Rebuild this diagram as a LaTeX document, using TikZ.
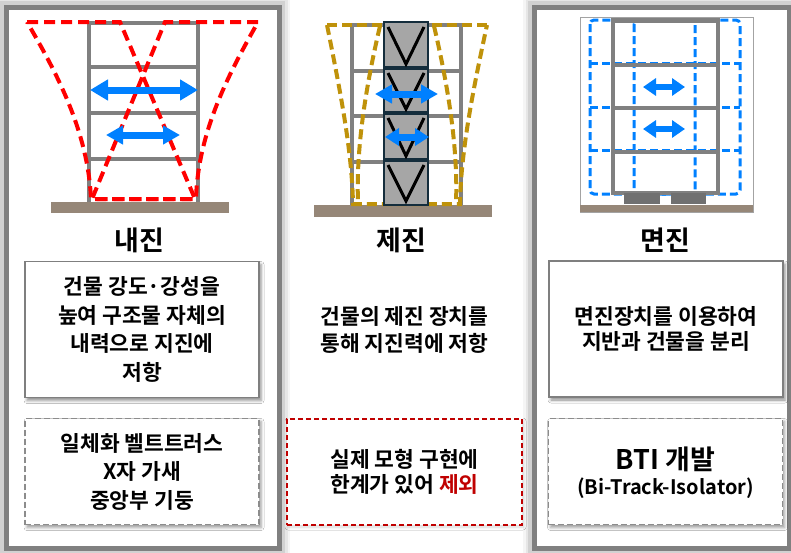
\documentclass[tikz,border=0pt]{standalone}
\usepackage{fontspec}
% heavy text: a true bold face when present, otherwise overprinted copies
\IfFontExistsTF{Noto Sans CJK KR Bold}{%
  \setmainfont{Noto Sans CJK KR Bold}%
  \newcommand\heavy[1]{#1}%
}{%
  \setmainfont{Noto Sans CJK KR}%
  \newcommand\heavy[1]{\rlap{#1}\rlap{\kern0.5pt\raisebox{0.35pt}{#1}}\kern1pt#1}%
}
\usetikzlibrary{arrows.meta,shadows.blur}

\definecolor{framegray}{RGB}{128,128,128}
\definecolor{groundc}{RGB}{150,135,120}
\definecolor{quakered}{RGB}{255,0,0}
\definecolor{quakegold}{RGB}{191,146,10}
\definecolor{quakeblue}{RGB}{0,128,255}
\definecolor{dampnavy}{RGB}{20,45,60}
\definecolor{dampfill}{RGB}{166,166,166}
\definecolor{padgray}{RGB}{112,112,112}
\definecolor{notered}{RGB}{192,0,0}
\definecolor{boxgray}{RGB}{127,127,127}
\definecolor{dashgray}{RGB}{140,140,140}

\tikzset{
  panelline/.style={draw=framegray, line width=5pt},
  frame/.style={draw=framegray, line width=4pt},
  reddash/.style={draw=quakered, line width=4pt, dash pattern=on 11pt off 6pt},
  golddash/.style={draw=quakegold, line width=4pt, dash pattern=on 10pt off 5pt},
  bluedash/.style={draw=quakeblue, line width=3pt, dash pattern=on 8pt off 4pt},
  sway/.style args={#1/#2/#3}{draw=quakeblue, line width=#1,
    arrows={Triangle[length=#2,width=#3]-Triangle[length=#2,width=#3]}},
  title/.style={font=\fontsize{27}{30}\selectfont},
  body/.style={font=\fontsize{21.5}{28.5}\selectfont, align=center},
  infobox/.style={body, draw=boxgray, line width=1.5pt, fill=white,
    minimum width=234pt, minimum height=136pt, inner sep=0pt,
    blur shadow={shadow xshift=2pt, shadow yshift=-3pt, shadow blur radius=3pt, shadow opacity=45}},
  notebox/.style={body, draw=dashgray, line width=1.6pt, dash pattern=on 6pt off 3pt,
    fill=white, minimum width=234pt, minimum height=106pt, inner sep=0pt,
    blur shadow={shadow xshift=2pt, shadow yshift=-3pt, shadow blur radius=3pt, shadow opacity=40}},
  rednote/.style={body, draw=notered, line width=1.3pt, dash pattern=on 5pt off 3pt,
    fill=white, minimum width=235pt, minimum height=106pt, inner sep=0pt,
    blur shadow={shadow xshift=1pt, shadow yshift=-2pt, shadow blur radius=3pt, shadow opacity=15}}
}

\begin{document}
\begin{tikzpicture}[x=1pt,y=-1pt]
\useasboundingbox (0,0) rectangle (791,552);
\fill[white] (0,0) rectangle (791,552);

% ---- outer panels with a soft glow ----
\foreach \px/\py/\qx/\qy in {6/7/279/548, 534/7/789/548}{
  \foreach \w/\o in {22/0.04,17/0.06,12/0.09}{
    \draw[line width=\w pt, draw=black, opacity=\o] (\px,\py) rectangle (\qx,\qy);
  }
  \fill[white] (\px,\py) rectangle (\qx,\qy);
  \draw[panelline] (\px,\py) rectangle (\qx,\qy);
}

% ---- rigid structure (left) ----
\fill[groundc] (51,202) rectangle (229,213);
\draw[frame] (89,202) -- (89,23) -- (198,23) -- (198,202);
\foreach \y in {67,113,159} \draw[frame] (89,\y) -- (198,\y);
\draw[reddash] (27,22) -- (120,22) -- (195,199) -- (91,199)
  .. controls (88,130) and (55,70) .. (27,22);
\draw[reddash] (258,22) -- (165,22) -- (92,199) -- (196,199)
  .. controls (198,130) and (231,70) .. (258,22);
\draw[sway=7pt/18pt/20pt] (90,90) -- (198,90);
\draw[sway=7pt/17pt/18pt] (106,135) -- (180,135);

% ---- damped structure (middle) ----
\fill[groundc] (314,205) rectangle (492,217);
\draw[frame] (352,205) -- (352,25) -- (461,25) -- (461,205);
\foreach \y in {71,116,162} \draw[frame] (352,\y) -- (461,\y);
\draw[golddash] (327,25) -- (488,25);
\draw[golddash] (327,25) .. controls (340,90) and (352,150) .. (353,204)
  -- (460,204) .. controls (461,150) and (473,90) .. (487,25);
\draw[golddash] (380,26) .. controls (365,90) and (356,150) .. (358,203);
\draw[golddash] (434,26) .. controls (449,90) and (458,150) .. (456,203);
\draw[fill=dampfill, draw=dampnavy, line width=2.5pt] (384,22) rectangle (428,205);
\foreach \y in {68,113,160} \draw[dampnavy, line width=4.5pt] (384,\y) -- (428,\y);
\foreach \t/\b in {22/68,68/113,113/160,160/205}
  \draw[black, line width=3pt] (388,\t+5) -- (406,\b-4) -- (424,\t+5);
\draw[sway=7pt/17pt/18pt] (375,94) -- (438,94);
\draw[sway=7pt/14pt/17pt] (385,137) -- (429,137);

% ---- isolated structure (right) ----
\draw[draw=dashgray!80, line width=1pt, fill=white] (580,17) rectangle (753,212);
\fill[groundc] (580,205) rectangle (753,212);
\draw[bluedash, rounded corners=4pt] (590,20) rectangle (695,194);
\draw[bluedash, rounded corners=4pt] (634,20) rectangle (740,194);
\foreach \y in {63,107,150} \draw[bluedash] (590,\y) -- (740,\y);
\draw[frame, line width=3.5pt] (613,193) -- (613,20) -- (718,20) -- (718,193) -- cycle;
\draw[frame, line width=5pt] (611,20) -- (720,20);
\foreach \y in {65,108,152} \draw[frame, line width=3.5pt] (613,\y) -- (718,\y);
\fill[padgray] (624,193) rectangle (660,204);
\fill[padgray] (671,193) rectangle (706,204);
\draw[sway=6pt/13pt/17pt] (643,87) -- (685,87);
\draw[sway=6pt/13pt/17pt] (643,129) -- (685,129);

% ---- titles ----
\node[title] (t1) at (139,240) {\heavy{내진}};
\node[title] (t2) at (401,240) {\heavy{제진}};
\node[title] (t3) at (665,240) {\heavy{면진}};

% ---- description boxes ----
\node[infobox] (b1) at (142,329.5) {\heavy{건물 강도·강성을}\\\heavy{높여 구조물 자체의}\\\heavy{내력으로 지진에}\\\heavy{저항}};
\node[body, font=\fontsize{21.5}{26.5}\selectfont] (b2) at (404.5,330) {\heavy{건물의 제진 장치를}\\\heavy{통해 지진력에 저항}};
\node[infobox, font=\fontsize{21.5}{24.5}\selectfont] (b3) at (666,329) {\heavy{면진장치를 이용하여}\\\heavy{지반과 건물을 분리}};

% ---- note boxes ----
\node[notebox] (n1) at (142,471.5) {\heavy{일체화 벨트트러스}\\\heavy{X자 가새}\\\heavy{중앙부 기둥}};
\node[rednote, font=\fontsize{21.5}{25.5}\selectfont] (n2) at (404.5,472) {\heavy{실제 모형 구현에}\\\heavy{한계가 있어 \textcolor{notered}{제외}}};
\node[notebox] (n3) at (665.5,471.5) {};
\node[font=\fontsize{27}{30}\selectfont] (n3a) at (665.5,459) {\heavy{BTI 개발}};
\node[font=\fontsize{20}{22}\selectfont] (n3b) at (665.5,488) {\heavy{(Bi-Track-Isolator)}};
\end{tikzpicture}
\end{document}
